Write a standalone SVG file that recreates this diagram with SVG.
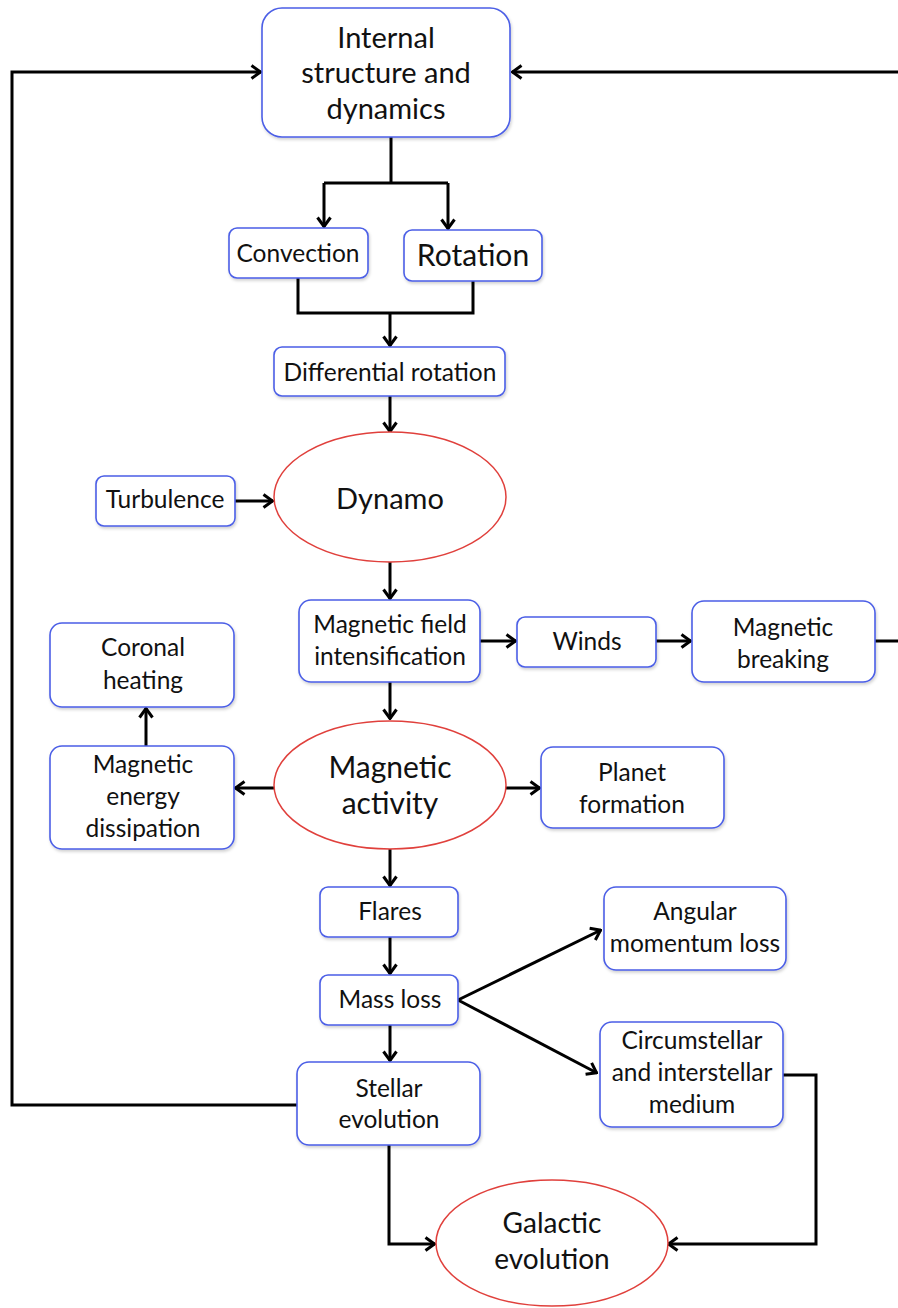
<svg xmlns="http://www.w3.org/2000/svg" width="898" height="1308" viewBox="0 0 898 1308">
<defs>
<style>
.box{fill:#fff;stroke:#4b5ee6;stroke-width:1.6;filter:url(#sh)}
.ell{fill:#fff;stroke:#e0403c;stroke-width:1.5}
.c{fill:none;stroke:#000;stroke-width:3;stroke-linejoin:miter}
.ca{fill:none;stroke:#000;stroke-width:3;marker-end:url(#ah)}
text{font-family:Lato,"Open Sans","Liberation Sans",sans-serif;fill:#111;text-anchor:middle}
.t{font-size:24.5px}.t24{font-size:29px}.t26{font-size:30px}.tdy{font-size:29px}.t28{font-size:30px}.tg{font-size:28px}
</style>
<filter id="sh" x="-10%" y="-10%" width="120%" height="130%">
<feDropShadow dx="1" dy="2" stdDeviation="1.5" flood-color="#000" flood-opacity="0.18"/>
</filter>
<marker id="ah" viewBox="0 0 12 16" refX="11" refY="8" markerWidth="12" markerHeight="16" markerUnits="userSpaceOnUse" orient="auto">
<path d="M1.5,1.5 L10.5,8 L1.5,14.5" fill="none" stroke="#000" stroke-width="3"/>
</marker>
</defs>
<rect width="898" height="1308" fill="#fff"/>
<g id="connectors">
<path class="ca" d="M297,1105 H12 V72 H261"/>
<path class="ca" d="M875,641 H899.5 V72 H512"/>
<path class="c" d="M391,137 V183"/>
<path class="ca" d="M324,183 H448 M324,183 V227"/>
<path class="ca" d="M448,183 V229"/>
<path class="c" d="M298,278 V313 H473 V281"/>
<path class="ca" d="M390,313 V346"/>
<path class="ca" d="M390,396 V432"/>
<path class="ca" d="M235,501 H273"/>
<path class="ca" d="M390,562 V599"/>
<path class="ca" d="M480,641 H516"/>
<path class="ca" d="M656,641 H691"/>
<path class="ca" d="M390,682 V719"/>
<path class="ca" d="M274,788 H235"/>
<path class="ca" d="M505,788 H540"/>
<path class="ca" d="M146,746 V708"/>
<path class="ca" d="M390,849 V886"/>
<path class="ca" d="M390,937 V974"/>
<path class="ca" d="M390,1025 V1061"/>
<path class="ca" d="M458,1000 L601,930"/>
<path class="ca" d="M458,1000 L597,1073"/>
<path class="ca" d="M389,1145 V1244 H435"/>
<path class="ca" d="M783,1075 H816 V1244 H668"/>
</g>
<g id="n-internal"><rect class="box" x="262" y="8" width="248" height="129" rx="20"/>
<text class="t24" x="386" y="48">Internal</text><text class="t24" x="386" y="83">structure and</text><text class="t24" x="386" y="119">dynamics</text></g>
<g id="n-convection"><rect class="box" x="229" y="228" width="139" height="50" rx="8"/><text class="t" x="298" y="262">Convection</text></g>
<g id="n-rotation"><rect class="box" x="404" y="230" width="138" height="51" rx="8"/><text class="t26" x="473" y="266">Rotation</text></g>
<g id="n-diffrot"><rect class="box" x="274" y="347" width="231" height="49" rx="8"/><text class="t" x="390" y="381">Differential rotation</text></g>
<g id="n-turbulence"><rect class="box" x="96" y="476" width="139" height="50" rx="8"/><text class="t" x="165" y="508">Turbulence</text></g>
<g id="n-dynamo"><ellipse class="ell" cx="390" cy="497" rx="116" ry="65"/><text class="tdy" x="390" y="509">Dynamo</text></g>
<g id="n-mfi"><rect class="box" x="299" y="600" width="181" height="82" rx="12"/>
<text class="t" x="390" y="633">Magnetic field</text><text class="t" x="390" y="665">intensification</text></g>
<g id="n-winds"><rect class="box" x="517" y="617" width="139" height="50" rx="8"/><text class="t" x="587" y="650">Winds</text></g>
<g id="n-breaking"><rect class="box" x="692" y="601" width="183" height="81" rx="12"/>
<text class="t" x="783" y="636">Magnetic</text><text class="t" x="783" y="668">breaking</text></g>
<g id="n-coronal"><rect class="box" x="50" y="623" width="184" height="84" rx="12"/>
<text class="t" x="143" y="656">Coronal</text><text class="t" x="143" y="689">heating</text></g>
<g id="n-dissipation"><rect class="box" x="50" y="746" width="184" height="103" rx="12"/>
<text class="t" x="143" y="773">Magnetic</text><text class="t" x="143" y="805">energy</text><text class="t" x="143" y="837">dissipation</text></g>
<g id="n-activity"><ellipse class="ell" cx="390" cy="785" rx="116" ry="64"/>
<text class="t28" x="390" y="778">Magnetic</text><text class="t28" x="390" y="814">activity</text></g>
<g id="n-planet"><rect class="box" x="541" y="747" width="183" height="81" rx="12"/>
<text class="t" x="632" y="781">Planet</text><text class="t" x="632" y="813">formation</text></g>
<g id="n-flares"><rect class="box" x="320" y="887" width="138" height="50" rx="8"/><text class="t" x="390" y="920">Flares</text></g>
<g id="n-massloss"><rect class="box" x="320" y="975" width="138" height="50" rx="8"/><text class="t" x="390" y="1008">Mass loss</text></g>
<g id="n-angular"><rect class="box" x="604" y="887" width="182" height="83" rx="12"/>
<text class="t" x="695" y="920">Angular</text><text class="t" x="695" y="952">momentum loss</text></g>
<g id="n-circum"><rect class="box" x="600" y="1022" width="183" height="105" rx="12"/>
<text class="t" x="692" y="1049">Circumstellar</text><text class="t" x="692" y="1081">and interstellar</text><text class="t" x="692" y="1113">medium</text></g>
<g id="n-stellar"><rect class="box" x="297" y="1062" width="183" height="83" rx="12"/>
<text class="t" x="389" y="1097">Stellar</text><text class="t" x="389" y="1128">evolution</text></g>
<g id="n-galactic"><ellipse class="ell" cx="552" cy="1243" rx="116" ry="63"/>
<text class="tg" x="552" y="1233">Galactic</text><text class="tg" x="552" y="1269">evolution</text></g>
</svg>
